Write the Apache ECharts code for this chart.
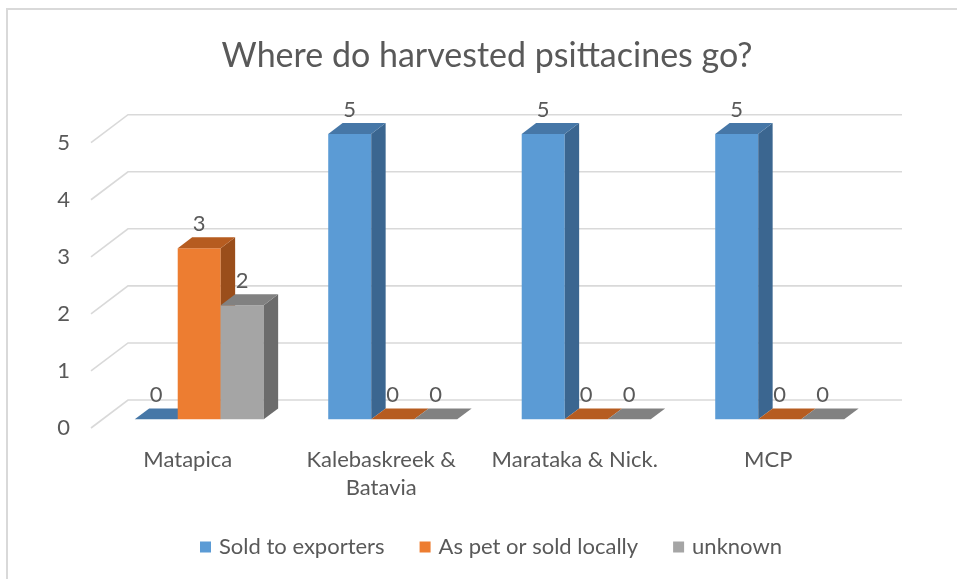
<!DOCTYPE html>
<html>
<head>
<meta charset="utf-8">
<title>Where do harvested psittacines go?</title>
<script src="https://cdn.jsdelivr.net/npm/echarts@6/dist/echarts.min.js"></script>
<style>
  html, body { margin: 0; padding: 0; background: #ffffff; }
  #chart { width: 957px; height: 579px; }
</style>
</head>
<body>
<div id="chart"></div>
<script>
// ---- data ----
const categories = ['Matapica', 'Kalebaskreek &\nBatavia', 'Marataka & Nick.', 'MCP'];
const seriesNames = ['Sold to exporters', 'As pet or sold locally', 'unknown'];
const soldToExporters = [0, 5, 5, 5];
const asPetOrSoldLocally = [3, 0, 0, 0];
const unknownDestination = [2, 0, 0, 0];
const yTicks = [0, 1, 2, 3, 4, 5];

// ---- look ----
const FONT = 'Lato, "Open Sans", sans-serif';
const LABEL_SIZE = 22;
const TEXT = '#595959';
const GRID_LINE = '#d9d9d9';
const palette = [
  { front: '#5b9bd5', top: '#4677a7', side: '#3b6690' },
  { front: '#ed7d31', top: '#b65c20', side: '#9a4e1b' },
  { front: '#a5a5a5', top: '#818181', side: '#6c6c6c' }
];
// oblique offset of the full floor depth, and where the columns sit in it
const DEPTH = [37, -28];
const COL_START = 0.31;
const COL_DEPTH = 0.39;

function gridRenderer(params, api) {
  const cs = params.coordSys;
  const y = api.coord([0, api.value(1)])[1];
  const xl = cs.x, xr = cs.x + cs.width;
  return {
    type: 'polyline',
    shape: { points: [[xl, y], [xl + DEPTH[0], y + DEPTH[1]], [xr + DEPTH[0], y + DEPTH[1]]] },
    style: { stroke: GRID_LINE, lineWidth: 1.6, fill: null }
  };
}

function columnRenderer(k) {
  return function (params, api) {
    const cat = api.value(0);
    const v = api.value(1);
    const base = api.coord([cat, 0]);
    const topPt = api.coord([cat, v]);
    const band = api.size([1, 0])[0];
    const bw = band / 4.5;
    const ox = DEPTH[0] * COL_START, oy = DEPTH[1] * COL_START;
    const dx = DEPTH[0] * COL_DEPTH, dy = DEPTH[1] * COL_DEPTH;
    const x0 = base[0] - 1.5 * bw + k * bw + ox;
    const x1 = x0 + bw;
    const y0 = base[1] + oy;
    const y1 = topPt[1] + oy;
    const c = palette[k];
    const children = [];
    if (y0 - y1 > 0.5) {
      children.push({ type: 'rect', shape: { x: x0, y: y1, width: bw, height: y0 - y1 }, style: { fill: c.front } });
      children.push({ type: 'polygon', shape: { points: [[x1, y1], [x1 + dx, y1 + dy], [x1 + dx, y0 + dy], [x1, y0]] }, style: { fill: c.side } });
    }
    children.push({ type: 'polygon', shape: { points: [[x0, y1], [x0 + dx, y1 + dy], [x1 + dx, y1 + dy], [x1, y1]] }, style: { fill: c.top } });
    children.push({
      type: 'text',
      style: {
        text: String(v), x: (x0 + x1) / 2, y: y1 - 24,
        align: 'center', verticalAlign: 'middle',
        fill: TEXT, fontSize: LABEL_SIZE, fontFamily: FONT
      }
    });
    return { type: 'group', children: children };
  };
}

function columnSeries(k, values) {
  return {
    type: 'custom',
    name: seriesNames[k],
    silent: true,
    itemStyle: { color: palette[k].front },
    renderItem: columnRenderer(k),
    encode: { x: 0, y: 1 },
    data: values.map((v, i) => [i, v]),
    z: 3
  };
}

const chart = echarts.init(document.getElementById('chart'), null, { renderer: 'canvas' });
chart.setOption({
  animation: false,
  backgroundColor: '#ffffff',
  textStyle: { fontFamily: FONT },
  graphic: [{
    type: 'rect', silent: true, z: -10,
    shape: { x: 7, y: 9, width: 980, height: 600 },
    style: { fill: null, stroke: GRID_LINE, lineWidth: 2 }
  }],
  title: {
    text: 'Where do harvested psittacines go?',
    left: 487, top: 39, textAlign: 'center', padding: 0,
    textStyle: { fontSize: 34, fontWeight: 'normal', color: TEXT, fontFamily: FONT }
  },
  legend: {
    data: seriesNames.map((n, k) => ({ name: n, icon: 'rect', itemStyle: { color: palette[k].front } })),
    left: 200, top: 536, padding: 0,
    itemWidth: 11, itemHeight: 11, itemGap: 35,
    selectedMode: false,
    textStyle: { fontSize: LABEL_SIZE, color: TEXT, fontFamily: FONT, padding: [0, 0, 0, 3] }
  },
  grid: { left: 91, right: 92, top: 142.7, bottom: 151, containLabel: false },
  xAxis: {
    type: 'category',
    data: categories,
    axisLine: { show: false },
    axisTick: { show: false },
    axisLabel: { interval: 0, margin: 18, fontSize: LABEL_SIZE, lineHeight: 28, color: TEXT, fontFamily: FONT }
  },
  yAxis: {
    type: 'value',
    min: 0, max: 5, interval: 1,
    axisLine: { show: false },
    axisTick: { show: false },
    splitLine: { show: false },
    axisLabel: { margin: 21, fontSize: LABEL_SIZE, color: TEXT, fontFamily: FONT }
  },
  series: [
    {
      type: 'custom', silent: true, z: 1,
      renderItem: gridRenderer,
      encode: { x: 0, y: 1 },
      data: yTicks.map(v => [0, v])
    },
    columnSeries(0, soldToExporters),
    columnSeries(1, asPetOrSoldLocally),
    columnSeries(2, unknownDestination)
  ]
});
</script>
</body>
</html>
